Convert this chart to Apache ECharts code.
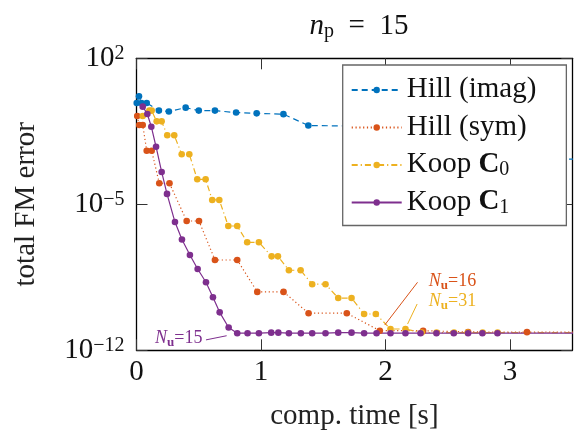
<!DOCTYPE html>
<html><head><meta charset="utf-8">
<script src="https://cdn.jsdelivr.net/npm/echarts@6/dist/echarts.min.js"></script>
<style>html,body{margin:0;padding:0;background:#fff}#c{width:576px;height:431px}</style>
</head><body><div id="c"></div>
<script>
const FONT = '"Liberation Serif", "DejaVu Serif", serif';

// ---- data (time [s], total FM error) ----
const hillImagT = [0.002, 0.02, 0.04, 0.082, 0.18, 0.26, 0.395, 0.50, 0.63, 0.80, 0.965, 1.18, 1.38, 1.75, 2.1, 2.5, 2.9, 3.35, 3.75];
const hillImagV = [0.72, 1.5, 0.72, 0.72, 0.31, 0.28, 0.43, 0.31, 0.31, 0.25, 0.23, 0.21, 0.06, 0.056, 0.032, 0.013, 0.005, 0.0015, 0.0014];

const hillSymT = [0.006, 0.022, 0.05, 0.082, 0.122, 0.183, 0.265, 0.403, 0.502, 0.63, 0.809, 0.97, 1.181, 1.382, 1.689, 1.954, 2.302, 2.663, 3.136, 3.8];
const hillSymV = [0.17, 0.063, 0.063, 3.7e-3, 3.7e-3, 1.02e-4, 1.02e-4, 1.58e-6, 1.58e-6, 2.14e-8, 2.14e-8, 6.3e-10, 6.3e-10, 6.0e-11, 6.0e-11, 8.7e-12, 8.7e-12, 7.6e-12, 7.4e-12, 7.4e-12];

const koopC0T = [0.05, 0.103, 0.122, 0.162, 0.202, 0.247, 0.303, 0.363, 0.424, 0.488, 0.555, 0.608, 0.665, 0.737, 0.809, 0.889, 0.983, 1.085, 1.136, 1.224, 1.318, 1.411, 1.518, 1.62, 1.727, 1.828, 1.922, 2.04, 2.16, 2.29, 2.41, 2.55, 2.66, 2.78, 2.90, 3.8];
const koopC0V = [0.17, 0.31, 0.31, 0.095, 0.095, 0.0204, 0.0204, 2.5e-3, 2.5e-3, 1.58e-4, 1.58e-4, 1.62e-5, 1.62e-5, 9.1e-7, 9.1e-7, 1.51e-7, 1.51e-7, 3.2e-8, 3.2e-8, 6.9e-9, 6.9e-9, 1.48e-9, 1.48e-9, 3.2e-10, 3.2e-10, 5.5e-11, 5.5e-11, 1.05e-11, 1.05e-11, 7.1e-12, 7.1e-12, 7.1e-12, 7.1e-12, 7.1e-12, 7.1e-12, 7.1e-12];

const koopC1T = [0.05, 0.087, 0.119, 0.157, 0.202, 0.245, 0.309, 0.365, 0.429, 0.491, 0.558, 0.614, 0.668, 0.74, 0.809, 0.892, 0.983, 1.082, 1.139, 1.224, 1.32, 1.411, 1.518, 1.62, 1.727, 1.828, 1.928, 2.04, 2.16, 2.281, 2.409, 2.548, 2.663, 2.778, 2.899, 3.8];
const koopC1V = [0.48, 0.214, 0.0525, 5.75e-3, 3.55e-4, 3.16e-5, 1.41e-6, 2.04e-7, 3.7e-8, 7.9e-9, 1.82e-9, 3.47e-10, 6.6e-11, 1.23e-11, 6.6e-12, 6.6e-12, 6.6e-12, 7.0e-12, 7.0e-12, 6.6e-12, 6.6e-12, 6.6e-12, 6.6e-12, 7.0e-12, 7.0e-12, 6.6e-12, 6.6e-12, 6.6e-12, 6.6e-12, 6.6e-12, 6.6e-12, 6.6e-12, 6.6e-12, 6.6e-12, 6.6e-12, 6.6e-12];

const xTickValues = [0, 1, 2, 3];
const yTickValues = [1e-12, 1e-5, 1e2];

const seriesNames = ['Hill (imag)', 'Hill (sym)', 'Koop C0', 'Koop C1'];
const legendLabels = {
  'Hill (imag)': '{r|Hill (imag)}',
  'Hill (sym)': '{r|Hill (sym)}',
  'Koop C0': '{r|Koop }{b|C}{s|0}',
  'Koop C1': '{r|Koop }{b|C}{s|1}'
};

// annotations: label, start of arrow, tip of arrow, label anchor
const annot16 = {text: '16', from: [2.257, 1.82e-9], to: [1.994, 1.64e-11], at: [2.348, 1.82e-9]};
const annot31 = {text: '31', from: [2.254, 1.66e-10], to: [2.177, 1.82e-11], at: [2.348, 2.04e-10]};
const annot15 = {text: '15', from: [0.558, 3.16e-12], to: [0.724, 5.0e-12], at: [0.53, 3.47e-12]};

const COLORS = ['#0072BD', '#D95319', '#EDB120', '#7E2F8E'];

function pairs(t, v) { return t.map((x, i) => [x, v[i]]); }

const annRich = c => ({
  n: {fontFamily: FONT, fontStyle: 'italic', fontSize: 18, color: c, lineHeight: 20, verticalAlign: 'top'},
  u: {fontFamily: FONT, fontWeight: 'bold', fontSize: 13, color: c, lineHeight: 10, verticalAlign: 'bottom'},
  r: {fontFamily: FONT, fontSize: 18, color: c, lineHeight: 20, verticalAlign: 'top'}
});

function annotation(a, c, pos) {
  return {
    markLine: {
      silent: true, animation: false,
      symbol: ['none', 'arrow'], symbolSize: [0, 7],
      label: {show: false},
      lineStyle: {color: c, type: 'solid', width: 1},
      emphasis: {disabled: true},
      data: [[{coord: a.from}, {coord: a.to}]]
    },
    markPoint: {
      silent: true, animation: false,
      symbol: 'circle', symbolSize: 0,
      data: [{
        coord: a.at,
        label: {show: true, position: pos, distance: 0,
          formatter: '{n|N}{u|u}{r|=' + a.text + '}', rich: annRich(c)}
      }]
    }
  };
}

const axisLineStyle = {color: '#000', width: 1.3};
const tickStyle = {color: '#333', width: 1};

const chart = echarts.init(document.getElementById('c'), null, {renderer: 'canvas'});

const baseSeries = (i, t, v, lineType, extra) => Object.assign({
  name: seriesNames[i], type: 'line', data: pairs(t, v),
  xAxisIndex: 0, yAxisIndex: 0,
  symbol: 'circle', symbolSize: 6.6, showSymbol: true, showAllSymbol: true,
  color: COLORS[i],
  itemStyle: {color: COLORS[i], borderWidth: 0},
  lineStyle: {color: COLORS[i], width: 1.2, type: lineType},
  clip: true, emphasis: {disabled: true}
}, extra || {});

const option = {
  animation: false,
  backgroundColor: '#fff',
  textStyle: {fontFamily: FONT},
  grid: {left: 136.5, right: 3.7, top: 58.3, bottom: 80.7, containLabel: false, outerBoundsMode: 'none'},
  title: {
    text: '{i|n}{s|p}{r|\u2002=\u200215}',
    left: 354, top: 7, textAlign: 'center',
    textStyle: {
      fontSize: 29, fontFamily: FONT, color: '#111', fontWeight: 'normal',
      rich: {
        i: {fontSize: 29, fontFamily: FONT, fontStyle: 'italic', fontWeight: 'normal', color: '#111', lineHeight: 30, verticalAlign: 'top'},
        s: {fontSize: 20, fontFamily: FONT, fontWeight: 'normal', color: '#111', lineHeight: 16, verticalAlign: 'bottom'},
        r: {fontSize: 29, fontFamily: FONT, fontWeight: 'normal', color: '#111', lineHeight: 30, verticalAlign: 'top'}
      }
    }
  },
  xAxis: [
    {type: 'value', min: 0, max: 3.5, interval: 1, position: 'bottom',
      axisLine: {show: true, onZero: false, lineStyle: axisLineStyle},
      axisTick: {show: true, inside: true, length: 11, lineStyle: tickStyle, customValues: xTickValues},
      splitLine: {show: false},
      axisLabel: {margin: 8, fontSize: 29, color: '#111', fontFamily: FONT, customValues: xTickValues,
        formatter: v => String(v)},
      name: 'comp. time [s]', nameLocation: 'middle', nameGap: 52,
      nameTextStyle: {fontSize: 29, color: '#222', fontFamily: FONT}},
    {type: 'value', min: 0, max: 3.5, interval: 1, position: 'top',
      axisLine: {show: true, onZero: false, lineStyle: axisLineStyle},
      axisTick: {show: true, inside: true, length: 11, lineStyle: tickStyle, customValues: xTickValues},
      splitLine: {show: false}, axisLabel: {show: false}}
  ],
  yAxis: [
    {type: 'log', logBase: 10, min: 1e-12, max: 1e2, position: 'left',
      axisLine: {show: true, onZero: false, lineStyle: axisLineStyle},
      axisTick: {show: true, inside: true, length: 11, lineStyle: tickStyle, customValues: yTickValues},
      minorTick: {show: false}, splitLine: {show: false},
      axisLabel: {margin: 12, color: '#111', fontFamily: FONT, customValues: yTickValues,
        formatter: v => {
          const e = Math.round(Math.log10(v));
          return '{b|10}{s|' + (e < 0 ? '\u2212' + (-e) : e) + '}';
        },
        rich: {
          b: {fontSize: 29, fontFamily: FONT, color: '#111', lineHeight: 30, verticalAlign: 'bottom'},
          s: {fontSize: 20, fontFamily: FONT, color: '#111', lineHeight: 15, verticalAlign: 'top'}
        }},
      name: 'total FM error', nameLocation: 'middle', nameGap: 96,
      nameTextStyle: {fontSize: 29, color: '#222', fontFamily: FONT}},
    {type: 'log', logBase: 10, min: 1e-12, max: 1e2, position: 'right',
      axisLine: {show: true, onZero: false, lineStyle: axisLineStyle},
      axisTick: {show: true, inside: true, length: 11, lineStyle: tickStyle, customValues: yTickValues},
      minorTick: {show: false}, splitLine: {show: false}, axisLabel: {show: false}}
  ],
  legend: {
    orient: 'vertical', left: 342.7, top: 65,
    data: seriesNames,
    formatter: name => legendLabels[name],
    itemWidth: 50, itemHeight: 8, itemGap: 7.5,
    padding: [10, 30, 8, 8],
    backgroundColor: '#fff', borderColor: '#666', borderWidth: 1.3, borderRadius: 0,
    selectedMode: false,
    textStyle: {fontSize: 29, color: '#111', fontFamily: FONT, lineHeight: 30,
      rich: {
        r: {fontSize: 29, fontFamily: FONT, color: '#111', lineHeight: 30, verticalAlign: 'top'},
        b: {fontSize: 29, fontFamily: FONT, fontWeight: 'bold', color: '#111', lineHeight: 30, verticalAlign: 'top'},
        s: {fontSize: 20, fontFamily: FONT, color: '#111', lineHeight: 22, verticalAlign: 'bottom'}
      }}
  },
  series: [
    baseSeries(0, hillImagT, hillImagV, [6, 4]),
    baseSeries(1, hillSymT, hillSymV, [1.2, 2.6], annotation(annot16, COLORS[1], 'right')),
    baseSeries(2, koopC0T, koopC0V, [6, 3, 1.2, 3], annotation(annot31, COLORS[2], 'right')),
    baseSeries(3, koopC1T, koopC1V, 'solid', annotation(annot15, COLORS[3], 'left'))
  ]
};
chart.setOption(option);
</script>
</body></html>
